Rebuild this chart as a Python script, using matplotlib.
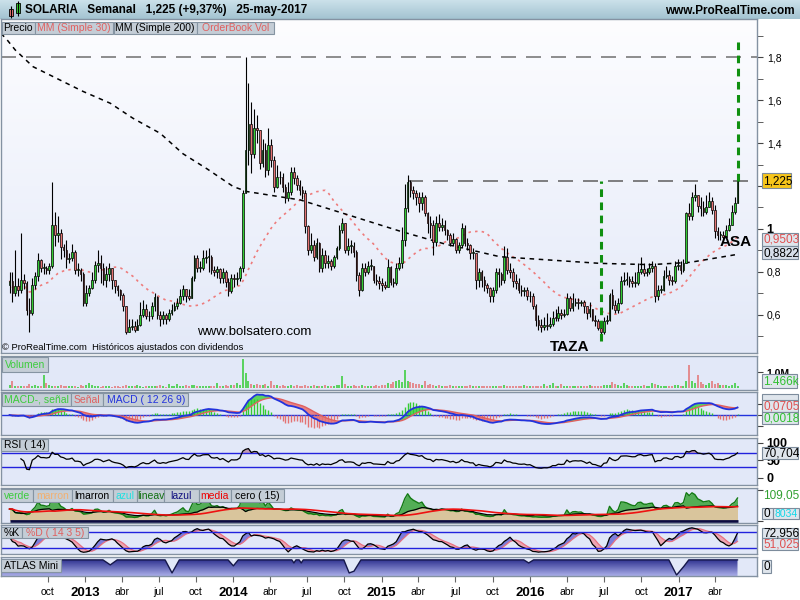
import numpy as np
import pandas as pd
import matplotlib
matplotlib.use("Agg")
import matplotlib.pyplot as plt
import matplotlib.dates as mdates
from matplotlib.patches import Rectangle
from matplotlib.colors import LinearSegmentedColormap

plt.rcParams['font.family'] = ['Liberation Sans', 'DejaVu Sans']

# ---- SOLARIA weekly candles (jun-2012 .. 25-may-2017) ----
close_a = [0.76, 0.70, 0.733, 0.717, 0.764, 0.748, 0.624, 0.608, 0.74, 0.78,
           0.857, 0.818, 0.818, 0.81, 0.826, 1.02, 0.973, 0.98, 0.918, 0.90,
           0.86, 0.865, 0.895, 0.81, 0.81, 0.79, 0.655, 0.70, 0.725, 0.764,
           0.833, 0.84, 0.818, 0.764, 0.79, 0.82, 0.764, 0.733, 0.717, 0.694,
           0.64, 0.523, 0.546, 0.55, 0.53, 0.555, 0.60, 0.63, 0.593, 0.595,
           0.64, 0.685, 0.60, 0.58, 0.60, 0.58, 0.61, 0.624, 0.64, 0.655,
           0.686, 0.72, 0.686, 0.68, 0.77, 0.864, 0.82, 0.82, 0.864, 0.87,
           0.87, 0.81, 0.80, 0.816, 0.77, 0.80, 0.755, 0.71, 0.77, 0.765,
           0.77, 0.818, 1.167, 1.368, 1.49, 1.35, 1.47]
high_a = [0.80, 0.80, 0.90, 0.77, 0.98, 0.79, 0.76, 0.68, 0.77, 0.80,
          0.89, 0.86, 0.84, 0.83, 0.84, 1.22, 1.08, 1.06, 1.00, 0.93,
          0.95, 0.89, 0.93, 0.90, 0.84, 0.82, 0.80, 0.74, 0.74, 0.80,
          0.85, 0.90, 0.88, 0.84, 0.83, 0.84, 0.80, 0.76, 0.74, 0.72,
          0.70, 0.64, 0.58, 0.58, 0.57, 0.58, 0.66, 0.67, 0.65, 0.62,
          0.66, 0.70, 0.69, 0.62, 0.62, 0.61, 0.63, 0.65, 0.66, 0.68,
          0.72, 0.74, 0.72, 0.72, 0.78, 0.88, 0.88, 0.85, 0.90, 0.90,
          0.91, 0.88, 0.83, 0.83, 0.82, 0.82, 0.81, 0.77, 0.79, 0.79,
          0.80, 0.83, 1.18, 1.80, 1.68, 1.59, 1.56]
low_a = [0.70, 0.66, 0.69, 0.69, 0.70, 0.72, 0.60, 0.52, 0.60, 0.72,
         0.76, 0.80, 0.79, 0.79, 0.79, 0.82, 0.92, 0.94, 0.86, 0.87,
         0.82, 0.84, 0.85, 0.79, 0.78, 0.76, 0.64, 0.64, 0.69, 0.72,
         0.75, 0.80, 0.75, 0.74, 0.73, 0.76, 0.72, 0.70, 0.69, 0.67,
         0.62, 0.51, 0.52, 0.53, 0.52, 0.53, 0.55, 0.59, 0.58, 0.57,
         0.58, 0.62, 0.58, 0.55, 0.56, 0.56, 0.57, 0.60, 0.62, 0.63,
         0.65, 0.67, 0.66, 0.67, 0.68, 0.76, 0.80, 0.80, 0.81, 0.84,
         0.80, 0.79, 0.78, 0.77, 0.75, 0.75, 0.73, 0.69, 0.70, 0.73,
         0.74, 0.76, 0.80, 1.18, 1.30, 1.26, 1.33]

close_b = [1.46, 1.307, 1.368, 1.275, 1.39, 1.32, 1.197, 1.244, 1.24, 1.197,
           1.143, 1.17, 1.267, 1.237, 1.205, 1.18, 1.166, 1.012, 0.903, 0.926,
           0.87, 0.934, 0.818, 0.88, 0.84, 0.85, 0.826, 0.87, 0.91, 0.996,
           1.027, 0.903, 0.92, 0.92, 0.895, 0.787, 0.717, 0.818, 0.80, 0.83,
           0.83, 0.764, 0.76, 0.75, 0.74, 0.73, 0.825, 0.755, 0.75, 0.82,
           0.84, 0.95, 1.097, 1.22, 1.18, 1.167, 1.15, 1.12, 1.15, 1.073,
           1.027, 1.02, 0.94, 1.027, 1.01, 1.02, 0.996, 0.973, 0.934, 0.955,
           0.903, 0.926, 1.004, 0.934, 0.926, 0.887, 0.887, 0.764, 0.80, 0.764,
           0.74, 0.725, 0.686, 0.717, 0.80]
high_b = [1.53, 1.46, 1.42, 1.40, 1.47, 1.42, 1.34, 1.30, 1.27, 1.26,
          1.21, 1.22, 1.29, 1.29, 1.25, 1.23, 1.20, 1.18, 1.02, 0.98,
          0.95, 0.96, 0.94, 0.91, 0.90, 0.88, 0.86, 0.88, 0.92, 1.02,
          1.05, 1.03, 0.96, 0.95, 0.94, 0.90, 0.80, 0.84, 0.84, 0.85,
          0.86, 0.83, 0.79, 0.78, 0.77, 0.76, 0.86, 0.83, 0.77, 0.84,
          0.87, 1.01, 1.21, 1.25, 1.23, 1.20, 1.18, 1.17, 1.17, 1.16,
          1.08, 1.06, 1.04, 1.06, 1.07, 1.05, 1.04, 1.00, 0.98, 0.98,
          0.96, 0.94, 1.03, 1.02, 0.96, 0.93, 0.91, 0.89, 0.82, 0.81,
          0.78, 0.75, 0.73, 0.73, 0.82]
low_b = [1.40, 1.28, 1.29, 1.24, 1.25, 1.29, 1.17, 1.19, 1.21, 1.17,
         1.12, 1.13, 1.16, 1.21, 1.18, 1.16, 1.14, 0.98, 0.88, 0.89,
         0.85, 0.86, 0.80, 0.80, 0.82, 0.82, 0.81, 0.82, 0.86, 0.90,
         0.98, 0.89, 0.88, 0.89, 0.87, 0.76, 0.69, 0.71, 0.78, 0.79,
         0.81, 0.75, 0.74, 0.72, 0.71, 0.72, 0.73, 0.74, 0.73, 0.74,
         0.81, 0.82, 0.92, 1.08, 1.15, 1.14, 1.11, 1.08, 1.09, 1.06,
         0.98, 0.96, 0.88, 0.92, 0.99, 0.99, 0.97, 0.95, 0.92, 0.92,
         0.89, 0.89, 0.91, 0.92, 0.90, 0.86, 0.86, 0.72, 0.73, 0.73,
         0.71, 0.70, 0.66, 0.66, 0.70]

close_c = [0.79, 0.764, 0.87, 0.81, 0.80, 0.756, 0.748, 0.717, 0.71, 0.717,
           0.686, 0.69, 0.64, 0.578, 0.554, 0.546, 0.554, 0.55, 0.56, 0.586,
           0.585, 0.608, 0.60, 0.605, 0.678, 0.632, 0.655, 0.66, 0.655, 0.66,
           0.64, 0.608, 0.63, 0.578, 0.57, 0.54, 0.52, 0.57, 0.578, 0.694,
           0.647, 0.624, 0.655, 0.756, 0.764, 0.765, 0.756, 0.748, 0.75, 0.80,
           0.815, 0.795, 0.80, 0.818, 0.826, 0.686, 0.717, 0.717, 0.78, 0.787,
           0.764, 0.756, 0.826, 0.833, 0.81, 0.84, 1.073, 1.06, 1.15, 1.16,
           1.105, 1.097, 1.08, 1.104, 1.128, 1.09, 0.99, 0.973, 0.973, 0.965,
           0.996, 1.02, 1.08, 1.12, 1.225]
high_c = [0.82, 0.80, 0.92, 0.91, 0.84, 0.82, 0.79, 0.77, 0.74, 0.73,
          0.73, 0.71, 0.70, 0.65, 0.60, 0.58, 0.59, 0.61, 0.59, 0.62,
          0.63, 0.64, 0.63, 0.63, 0.70, 0.69, 0.70, 0.68, 0.68, 0.67,
          0.67, 0.64, 0.66, 0.63, 0.60, 0.58, 0.56, 0.59, 0.60, 0.70,
          0.72, 0.67, 0.68, 0.78, 0.80, 0.80, 0.78, 0.78, 0.80, 0.84,
          0.87, 0.84, 0.82, 0.84, 0.85, 0.84, 0.74, 0.74, 0.81, 0.83,
          0.81, 0.78, 0.85, 0.86, 0.85, 0.86, 1.08, 1.12, 1.17, 1.21,
          1.16, 1.15, 1.13, 1.16, 1.17, 1.15, 1.11, 1.01, 0.99, 0.99,
          1.02, 1.05, 1.11, 1.15, 1.24]
low_c = [0.73, 0.74, 0.75, 0.79, 0.77, 0.73, 0.72, 0.70, 0.69, 0.69,
         0.67, 0.66, 0.63, 0.55, 0.53, 0.52, 0.53, 0.53, 0.54, 0.55,
         0.57, 0.57, 0.58, 0.59, 0.60, 0.62, 0.62, 0.64, 0.63, 0.64,
         0.61, 0.58, 0.59, 0.57, 0.55, 0.53, 0.50, 0.51, 0.56, 0.57,
         0.63, 0.61, 0.61, 0.65, 0.74, 0.74, 0.73, 0.73, 0.73, 0.74,
         0.79, 0.78, 0.78, 0.79, 0.80, 0.66, 0.67, 0.70, 0.71, 0.77,
         0.74, 0.74, 0.75, 0.81, 0.79, 0.80, 0.84, 1.04, 1.04, 1.13,
         1.08, 1.06, 1.06, 1.07, 1.10, 1.07, 0.96, 0.95, 0.95, 0.94,
         0.96, 0.99, 1.02, 1.07, 1.12]
first_open = 0.74

# weekly volume, thousands of shares
volume_k = [170, 430, 120, 140, 110, 150, 100, 250, 130, 200,
            120, 150, 830, 300, 180, 140, 120, 110, 160, 130,
            110, 100, 140, 120, 90, 160, 140, 200, 310, 170,
            130, 110, 90, 150, 120, 100, 80, 140, 110, 90,
            130, 200, 150, 110, 100, 170, 120, 90, 140, 110,
            100, 150, 120, 180, 110, 90, 260, 130, 110, 240,
            150, 120, 190, 140, 160, 200, 130, 120, 140, 110,
            130, 150, 120, 310, 140, 110, 160, 120, 200, 170,
            310, 180, 1800, 940, 420, 250, 200, 230, 180, 160,
            220, 150, 460, 200, 170, 140, 180, 150, 120, 160,
            130, 200, 150, 120, 170, 140, 110, 180, 130, 150,
            120, 160, 140, 110, 150, 200, 180, 730, 220, 150,
            130, 170, 140, 120, 160, 110, 130, 150, 120, 180,
            140, 200, 160, 300, 250, 350, 420, 520, 380, 1150,
            420, 400, 300, 260, 220, 180, 420, 200, 250, 160,
            140, 170, 130, 150, 120, 180, 140, 110, 130, 150,
            120, 140, 160, 110, 130, 150, 120, 100, 140, 130,
            110, 150, 120, 140, 160, 130, 110, 150, 120, 140,
            130, 160, 150, 120, 140, 110, 150, 130, 250, 120,
            160, 300, 140, 130, 240, 150, 120, 140, 130, 110,
            150, 120, 140, 130, 160, 120, 140, 110, 150, 200,
            180, 160, 375, 220, 180, 150, 310, 160, 140, 130,
            150, 120, 140, 160, 130, 120, 310, 250, 160, 140,
            130, 150, 120, 140, 210, 200, 150, 130, 420, 1450,
            420, 300, 790, 370, 250, 200, 300, 420, 260, 340,
            200, 160, 210, 150, 170, 330, 150]

# MM (Simple 200) as drawn on the chart
ma200_dates = ['2012-06-08', '2012-06-23', '2012-07-13', '2012-08-26', '2012-12-27',
               '2013-03-04', '2013-04-29', '2013-07-05', '2013-08-30', '2013-10-28',
               '2014-01-01', '2014-02-04', '2014-06-15', '2014-10-03', '2015-02-15',
               '2015-06-06', '2015-10-19', '2016-06-22', '2016-10-24', '2017-01-30',
               '2017-05-26']
ma200_vals = [1.91, 1.88, 1.833, 1.755, 1.64, 1.585, 1.515, 1.445, 1.35, 1.28,
              1.197, 1.174, 1.135, 1.07, 0.99, 0.93, 0.871, 0.84, 0.834, 0.845,
              0.882]

# ATLAS Mini (1 = flat top, dips to 0)
atlas_dates = ['2012-06-08', '2013-02-14', '2013-03-04', '2013-03-21', '2013-07-17',
               '2013-08-03', '2013-08-21', '2013-12-19', '2014-01-01', '2014-01-13',
               '2014-05-25', '2014-05-30', '2014-06-04', '2014-06-12', '2014-06-17',
               '2014-06-22', '2014-09-30', '2014-10-13', '2014-10-25', '2014-11-11',
               '2015-12-17', '2015-12-29', '2016-01-10', '2016-12-08', '2016-12-27',
               '2017-01-14', '2017-01-26', '2017-05-26']
atlas_vals = [1, 1, 0.69, 1, 1, 0.19, 1, 1, 0.63, 1,
              1, 0.81, 1, 1, 0.81, 1, 1, 0.19, 0.3, 1,
              1, 0.81, 1, 1, 0.06, 0.6, 1, 1]

top_2014 = 1.80
resistance = 1.225
target = 1.89

# ---- derived series ----
closes = np.array(close_a + close_b + close_c)
highs = np.array(high_a + high_b + high_c)
lows = np.array(low_a + low_b + low_c)
vol = np.array(volume_k, dtype=float)
n = len(closes)
opens = np.r_[first_open, closes[:-1]]
highs = np.maximum(highs, np.maximum(opens, closes))
lows = np.minimum(lows, np.minimum(opens, closes))
dates = pd.date_range(end='2017-05-26', periods=n, freq='W-FRI')
x = mdates.date2num(dates)
up = closes >= opens
GREEN, RED = '#33cc33', '#e47272'
cols = np.where(up, GREEN, RED)

s = pd.Series(closes)
ma30 = s.rolling(30, min_periods=1).mean().values
ema12 = s.ewm(span=12, adjust=False).mean()
ema26 = s.ewm(span=26, adjust=False).mean()
macd = (ema12 - ema26).values
signal = pd.Series(macd).ewm(span=9, adjust=False).mean().values

delta = s.diff().fillna(0)
gain = delta.clip(lower=0).ewm(alpha=1 / 14, adjust=False).mean()
loss = (-delta.clip(upper=0)).ewm(alpha=1 / 14, adjust=False).mean()
rsi = (100 - 100 / (1 + gain / loss.replace(0, 1e-9))).values
rsi_from = 4  # first weeks have no history yet

hh = pd.Series(highs).rolling(14, min_periods=1).max()
ll = pd.Series(lows).rolling(14, min_periods=1).min()
fastk = 100 * (s - ll) / (hh - ll)
k_line = fastk.rolling(3, min_periods=1).mean()
d_line = k_line.rolling(5, min_periods=1).mean()

hi52 = pd.Series(highs).rolling(52, min_periods=1).max()
lo52 = pd.Series(lows).rolling(52, min_periods=1).min()
ema6 = s.ewm(span=6, adjust=False).mean()
ema13 = s.ewm(span=13, adjust=False).mean()
marron = (12 + 42 * (ema6 - lo52) / (hi52 - lo52)).values
dev = ((s - ema13) / ema13).values
verde = np.clip(marron + np.where(dev > 0, 170 * dev, 35 * dev), -8, 103)
media = pd.Series(marron).rolling(15, min_periods=1).mean().values

# ---- figure ----
W, H = 800, 600
fig = plt.figure(figsize=(8, 6), dpi=100)
fig.patch.set_facecolor('white')
x_left = mdates.date2num(pd.Timestamp('2012-06-08'))
x_right = mdates.date2num(pd.Timestamp('2017-07-13'))


def px_axes(x0, y0, x1, y1):
    return fig.add_axes([x0 / W, 1 - y1 / H, (x1 - x0) / W, (y1 - y0) / H])


def style(a, face='#e2e8f8'):
    a.set_facecolor(face)
    for sp in a.spines.values():
        sp.set_color('#8492a2')
        sp.set_linewidth(1)
    a.set_xlim(x_left, x_right)
    a.tick_params(axis='x', which='both', bottom=False, labelbottom=False)
    a.yaxis.tick_right()
    a.tick_params(axis='y', which='both', direction='out', color='#444',
                  labelsize=7.5, pad=3, length=4)


def box(x0, y0, x1, y1, fc='#c4cdd6', ec='#8594a2'):
    fig.add_artist(Rectangle((x0 / W, 1 - y1 / H), (x1 - x0) / W, (y1 - y0) / H,
                             transform=fig.transFigure, fc=fc, ec=ec, lw=0.8, zorder=20))


def ftext(xp, yp, txt, **kw):
    fig.text(xp / W, 1 - yp / H, txt, zorder=21, **kw)


def tag(x0, y0, x1, y1, txt, color='black', fc='#c4cdd6', fs=7.5):
    box(x0, y0, x1, y1, fc=fc)
    ftext((x0 + x1) / 2, (y0 + y1) / 2 + 0.5, txt, color=color, fontsize=fs,
          ha='center', va='center')


def vbox(x0, y0, x1, y1, txt, color='black', fc='#dfe5ec', fs=8.5):
    box(x0, y0, x1, y1, fc=fc, ec='#7d8c9c')
    ftext(x0 + 1.5, (y0 + y1) / 2 + 0.5, txt, color=color, fontsize=fs,
          ha='left', va='center')


# header bar
axh = px_axes(0, 0, 800, 19)
axh.imshow(np.linspace(0, 1, 50).reshape(-1, 1), extent=[0, 800, 19, 0],
           cmap=LinearSegmentedColormap.from_list('h', ['#cbe1ea', '#a3c3d1']),
           aspect='auto')
axh.set_xlim(0, 800)
axh.set_ylim(19, 0)
axh.axis('off')
axh.vlines([11, 17.5], [6, 1], [18, 16], color='black', lw=0.8)
axh.add_patch(Rectangle((9, 8.5), 4, 7, fc=RED, ec='black', lw=0.6))
axh.add_patch(Rectangle((15.5, 3), 4, 9.5, fc=GREEN, ec='black', lw=0.6))
axh.text(25, 10, 'SOLARIA   Semanal   1,225 (+9,37%)   25-may-2017',
         fontsize=8.5, fontweight='bold', va='center', ha='left')
axh.text(795, 10.5, 'www.ProRealTime.com', fontsize=8.5, fontweight='bold',
         va='center', ha='right')

# ---- price panel ----
ax = px_axes(1, 19, 757, 353)
ax.imshow(np.linspace(0, 1, 256).reshape(-1, 1), extent=[0, 1, 0, 1],
          transform=ax.transAxes, aspect='auto', zorder=0,
          cmap=LinearSegmentedColormap.from_list('m', ['#fdfdff', '#e3e9f8']))
style(ax, face='#f4f6fd')
ax.vlines(x, lows, highs, color='black', lw=0.8, zorder=3)
body = np.maximum(np.abs(closes - opens), 0.004)
ax.bar(x, body, bottom=np.minimum(opens, closes), width=4.2, color=cols,
       edgecolor='black', linewidth=0.5, zorder=4)
ax.plot(x, ma30, color='#ee7c7c', lw=1.2, ls=(0, (1.5, 2.5)), zorder=2)
ax.plot(mdates.date2num(pd.to_datetime(ma200_dates)), ma200_vals, color='black',
        lw=1.1, ls=(0, (3, 3)), zorder=2)
ax.hlines(top_2014, x_left, x_right, color='#7a7a7a', lw=1.2, ls=(0, (9, 6)), zorder=2)
i15 = np.where(dates.year == 2015)[0]
i_peak = i15[np.argmax(highs[i15])]
ax.hlines(resistance, x[i_peak], x_right, color='#6a6a6a', lw=1.2, ls=(0, (9, 6)),
          zorder=2)
i_low = np.argmin(lows)
ax.vlines(x[i_low], lows[i_low] - 0.02, resistance, color='#109010', lw=2.2,
          ls=(0, (2.5, 1.8)), zorder=5)
ax.vlines(x[-1], resistance, target, color='#109010', lw=2.2, ls=(0, (2.5, 1.8)),
          zorder=5)
ax.text(x[i_low] - 77, lows[i_low] - 0.05, 'TAZA', fontsize=11, fontweight='bold',
        ha='center', va='center', zorder=6)
ax.text(x[-1] - 4, 0.94, 'ASA', fontsize=11, fontweight='bold', ha='center',
        va='center', zorder=6)
ax.set_ylim(0.423, 1.977)
ax.set_xlim(x_left, x_right)
major = [0.6, 0.8, 1.0, 1.2, 1.4, 1.6, 1.8]
ax.set_yticks(major)
# the 1,2 label sits under the last-price box
ax.set_yticklabels(['1' if v == 1.0 else '' if v == 1.2 else f'{v:.1f}'.replace('.', ',')
                    for v in major])
ax.set_yticks(np.arange(0.5, 1.95, 0.1), minor=True)
ax.tick_params(axis='y', which='minor', length=4, color='#444', direction='out')
for lab in ax.get_yticklabels():
    if lab.get_text() == '1':
        lab.set_fontweight('bold')
        lab.set_fontsize(9)
ftext(197, 332, 'www.bolsatero.com', fontsize=9.5, va='center', ha='left')
ftext(2, 347, '© ProRealTime.com  Históricos ajustados con dividendos', fontsize=6.8,
      va='center', ha='left')

# ---- volume ----
axv = px_axes(1, 356, 757, 390)
style(axv)
axv.vlines(x, 0, vol, colors=cols, lw=1.1)
axv.set_ylim(-125, 2000)
axv.set_yticks([1000])
axv.set_yticklabels(['1,0M'], fontweight='bold')

# ---- MACD ----
axm = px_axes(1, 392, 757, 435)
style(axm)
axm.axhline(0, color='#2233dd', lw=1)
axm.fill_between(x, macd, signal, where=macd >= signal, color='#44d044', alpha=0.85,
                 interpolate=True, lw=0)
axm.fill_between(x, macd, signal, where=macd < signal, color='#e87070', alpha=0.85,
                 interpolate=True, lw=0)
hist = macd - signal
axm.vlines(x, 0, hist * 2, colors=np.where(hist >= 0, GREEN, RED), lw=1)
axm.plot(x, signal, color='#e06060', lw=1)
axm.plot(x, macd, color='#2233dd', lw=1.3)
mtop = np.max(macd) * 1.12
axm.set_ylim(-mtop * 20 / 23, mtop)
axm.set_yticks([-0.1, 0, 0.1])
axm.set_yticklabels([])

# ---- RSI ----
axr = px_axes(1, 438, 757, 485)
style(axr)
xr, rr = x[rsi_from:], rsi[rsi_from:]
axr.plot(xr, rr, color='black', lw=0.9, zorder=3)
axr.fill_between(xr, rr, 70, where=rr > 70, color='#b77a98', alpha=0.7,
                 interpolate=True, lw=0)
axr.fill_between(xr, rr, 30, where=rr < 30, color='#5a5ad0', alpha=0.7,
                 interpolate=True, lw=0)
axr.axhline(70, color='#2222dd', lw=1)
axr.axhline(30, color='#2222dd', lw=1)
axr.set_ylim(-20, 114)
axr.set_yticks([0, 50, 100])
axr.set_yticklabels(['0', '50', '100'], fontweight='bold', fontsize=9)

# ---- verde / marron ----
axg = px_axes(1, 488, 757, 523)
style(axg)
axg.fill_between(x, 0, marron, color='#d9c59c', lw=0)
axg.fill_between(x, marron, verde, color='#3aa43a', alpha=0.85, lw=0)
axg.plot(x, verde, color='#127a12', lw=1)
axg.plot(x, marron, color='black', lw=0.9)
axg.plot(x, media, color='#ee1111', lw=1.2)
axg.hlines(0, x[0], x[-1], color='#0c0c40', lw=2)
axg.set_ylim(-8, 105)
axg.set_yticks([0, 100])
axg.set_yticklabels([])

# ---- stochastic ----
axs = px_axes(1, 525, 757, 554)
style(axs)
kv, dv = k_line.values, d_line.values
axs.fill_between(x, kv, dv, where=kv >= dv, color='#6a6ad6', alpha=0.85,
                 interpolate=True, lw=0)
axs.fill_between(x, kv, dv, where=kv < dv, color='#ee9aa6', alpha=0.85,
                 interpolate=True, lw=0)
axs.plot(x, dv, color='#e87080', lw=0.9)
axs.plot(x, kv, color='black', lw=0.9)
axs.axhline(80, color='#2222dd', lw=1)
axs.axhline(20, color='#2222dd', lw=1)
axs.set_ylim(-1, 104)
axs.set_yticks([])

# ---- ATLAS Mini ----
axa = px_axes(1, 557, 757, 576)
style(axa)
ax_d = mdates.date2num(pd.to_datetime(atlas_dates))
poly = axa.fill_between(ax_d, 0, atlas_vals, color='none', lw=0)
img = axa.imshow(np.linspace(0, 1, 64).reshape(-1, 1),
                 extent=[ax_d[0], ax_d[-1], 0, 1.0], aspect='auto',
                 cmap=LinearSegmentedColormap.from_list('a', ['#2c2f8e', '#a9ade8']),
                 zorder=1)
img.set_clip_path(poly.get_paths()[0], transform=axa.transData)
axa.plot(ax_d, atlas_vals, color='#15174a', lw=1, zorder=2)
axa.set_ylim(0, 1.18)
axa.set_xlim(x_left, x_right)
axa.set_yticks([])

ticks, labels = [], []
for yr in range(2012, 2018):
    for mo, name in [(1, str(yr)), (4, 'abr'), (7, 'jul'), (10, 'oct')]:
        t = pd.Timestamp(year=yr, month=mo, day=1)
        if pd.Timestamp('2012-09-01') < t < pd.Timestamp('2017-06-01'):
            ticks.append(mdates.date2num(t))
            labels.append(name)
axa.set_xticks(ticks)
axa.set_xticklabels(labels)
axa.tick_params(axis='x', which='major', bottom=True, labelbottom=True, length=4,
                color='#666', pad=4, labelsize=7.5)
for lab in axa.get_xticklabels():
    if lab.get_text().isdigit():
        lab.set_fontweight('bold')
        lab.set_fontsize(9.5)

# ---- legend tags ----
tag(1.7, 21.7, 34.7, 33.7, 'Precio')
tag(35.3, 21.7, 113.3, 33.7, 'MM (Simple 30)', color='#e06060')
tag(113.7, 21.7, 196.7, 33.7, 'MM (Simple 200)')
tag(197.3, 21.7, 274, 33.7, 'OrderBook Vol', color='#e06060')
tag(1.7, 357.3, 47.7, 371.7, 'Volumen', color='#3ccc3c')
tag(1.7, 392.7, 71, 406, 'MACD-, señal', color='#3ccc3c')
tag(71, 392.7, 103.3, 406, 'Señal', color='#e06060')
tag(103.3, 392.7, 188.3, 406, 'MACD ( 12 26 9)', color='#2233dd')
tag(1, 439.3, 47.7, 450.7, 'RSI ( 14)')
for (a0, a1, txt, c) in [(1, 33.3, 'verde', '#3ccc3c'), (33.3, 71.7, 'marron', '#f2b070'),
                         (71.7, 112.7, 'lmarron', 'black'), (112.7, 137.3, 'azul', '#22e0e0'),
                         (137.3, 164, 'lineav', '#107010'), (164, 198.7, 'lazul', '#101080'),
                         (198.7, 230.7, 'media', '#ee0000'), (230.7, 284, 'cero ( 15)', 'black')]:
    tag(a0, 489.3, a1, 501.7, txt, color=c)
tag(1, 526.7, 21.7, 538.3, '%K')
tag(21.7, 526.7, 88.3, 538.3, '%D ( 14 3 5)', color='#e06060')
tag(1, 559.3, 61, 571.7, 'ATLAS Mini')

# ---- right-hand value boxes ----
vbox(761.5, 172.7, 791, 188.3, '1,225', fc='#f6c51a')
vbox(761.5, 233, 798, 246, '0,9503', color='#e05050')
vbox(761.5, 246, 798, 259.3, '0,8822', fc='#d6dee9')
vbox(761.5, 374, 797, 388.3, '1.466k', color='#30c030')
vbox(761.5, 394, 798, 401, '', fc='#dfe5ec')
vbox(761.5, 400, 798, 412, '0,0705', color='#e05050')
vbox(761.5, 412, 798, 424, '0,0018', color='#30c030')
vbox(761.5, 446.7, 798, 459.3, '70,704')
ftext(763, 496, '109,05', color='#30a030', fontsize=8.5, va='center')
vbox(761.5, 508, 773, 519, '0')
vbox(773, 508, 799, 519, '8034', color='#10d8e8', fs=7.5)
vbox(761.5, 528, 798, 538, '72,956')
vbox(761.5, 538, 798, 550, '51,025', color='#e05050')
vbox(761.5, 560, 770.5, 573, '0')

fig.savefig('out.png', dpi=100)
